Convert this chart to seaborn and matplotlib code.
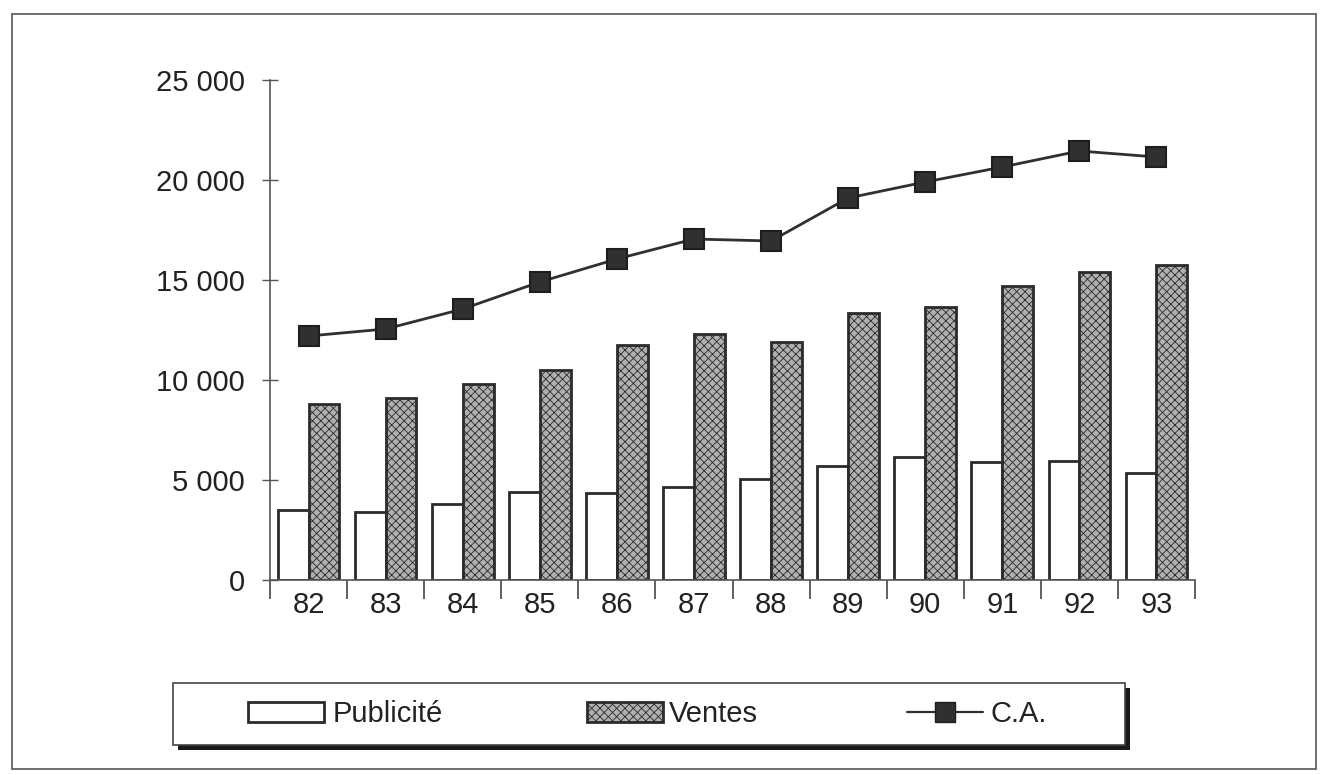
import numpy as np
import pandas as pd
import matplotlib
matplotlib.use("Agg")
import matplotlib.pyplot as plt
import seaborn as sns
from matplotlib.patches import Rectangle, Patch
from matplotlib.lines import Line2D
from matplotlib.ticker import FuncFormatter, FixedLocator

# values
annees = ['82', '83', '84', '85', '86', '87', '88', '89', '90', '91', '92', '93']
publicite = [3500, 3400, 3800, 4400, 4350, 4650, 5050, 5700, 6150, 5900, 5950, 5350]
ventes = [8800, 9100, 9800, 10500, 11750, 12300, 11900, 13350, 13650, 14700, 15400, 15750]
ca = [12200, 12550, 13550, 14900, 16050, 17050, 16950, 19100, 19900, 20650, 21450, 21150]
yticks = [0, 5000, 10000, 15000, 20000, 25000]

sns.set_theme(style="white")
plt.rcParams['font.family'] = ['Liberation Sans', 'DejaVu Sans']
plt.rcParams['hatch.color'] = '#6e6e6e'
plt.rcParams['hatch.linewidth'] = 0.6

W, H = 1322, 775
fig = plt.figure(figsize=(W / 100, H / 100), dpi=100)
fig.patch.set_facecolor('white')
ax = fig.add_axes([270 / W, 1 - 580 / H, (1195 - 270) / W, 500 / H])

dark = '#2b2b2b'
gris = '#b0b0b0'
df = pd.DataFrame({
    'annee': annees * 2,
    'serie': ['Publicité'] * len(annees) + ['Ventes'] * len(annees),
    'valeur': publicite + ventes,
})
sns.barplot(data=df, x='annee', y='valeur', hue='serie',
            palette={'Publicité': 'white', 'Ventes': gris},
            edgecolor=dark, linewidth=2, width=0.8, gap=0,
            legend=False, ax=ax)
for bar in ax.containers[1]:
    bar.set_hatch('xxxx')

sns.pointplot(x=annees, y=ca, color='#303030', markers='s', markersize=15,
              linewidth=2, errorbar=None, markeredgecolor='#1e1e1e', ax=ax)

ax.set_xlim(-0.5, len(annees) - 0.5)
ax.set_ylim(0, 25000)
ax.set_yticks(yticks)
ax.yaxis.set_major_formatter(FuncFormatter(lambda v, p: f"{int(v):,}".replace(',', ' ')))
ax.xaxis.set_minor_locator(FixedLocator(np.arange(-0.5, len(annees), 1)))
ax.set_xlabel('')
ax.set_ylabel('')

fs = 21
ax.tick_params(axis='x', which='major', length=0, pad=8, labelsize=fs, labelcolor='#222222')
ax.tick_params(axis='x', which='minor', length=14, width=1.2, direction='out',
               color='#444444', bottom=True)
ax.tick_params(axis='y', which='major', length=12, width=1, direction='inout',
               color='#555555', pad=12, labelsize=fs, labelcolor='#222222', left=True)

for s in ['top', 'right']:
    ax.spines[s].set_visible(False)
for s in ['left', 'bottom']:
    ax.spines[s].set_color('#555555')
    ax.spines[s].set_linewidth(1.2)

# outer frame of the whole chart
fig.add_artist(Rectangle((12 / W, 1 - 769 / H), (1316 - 12) / W, (769 - 14) / H,
                         transform=fig.transFigure, fill=False,
                         edgecolor='#555555', linewidth=1.2))

# legend box with its shadow
lx0, ly0, lx1, ly1 = 173, 683, 1125, 745
fig.add_artist(Rectangle(((lx0 + 5) / W, 1 - (ly1 + 5) / H), (lx1 - lx0) / W, (ly1 - ly0) / H,
                         transform=fig.transFigure, facecolor='#1a1a1a', edgecolor='none'))
fig.add_artist(Rectangle((lx0 / W, 1 - ly1 / H), (lx1 - lx0) / W, (ly1 - ly0) / H,
                         transform=fig.transFigure, facecolor='white',
                         edgecolor='#444444', linewidth=1.2))

ly = 1 - 714 / H
entries = [
    (Patch(facecolor='white', edgecolor=dark, linewidth=2), 'Publicité', 248, 0.3),
    (Patch(facecolor=gris, edgecolor=dark, linewidth=2, hatch='xxxx'), 'Ventes', 587, 0.2),
    (Line2D([], [], color='#303030', linewidth=1.6, marker='s', markersize=14,
            markeredgecolor='#1e1e1e'), 'C.A.', 907, 0.25),
]
for handle, label, x, hp in entries:
    fig.legend([handle], [label], loc='center left', bbox_to_anchor=(x / W, ly),
               frameon=False, fontsize=fs, borderpad=0, borderaxespad=0,
               handlelength=2.6, handleheight=0.7, handletextpad=hp, labelcolor='#222222')

fig.savefig('out.png', dpi=100)
